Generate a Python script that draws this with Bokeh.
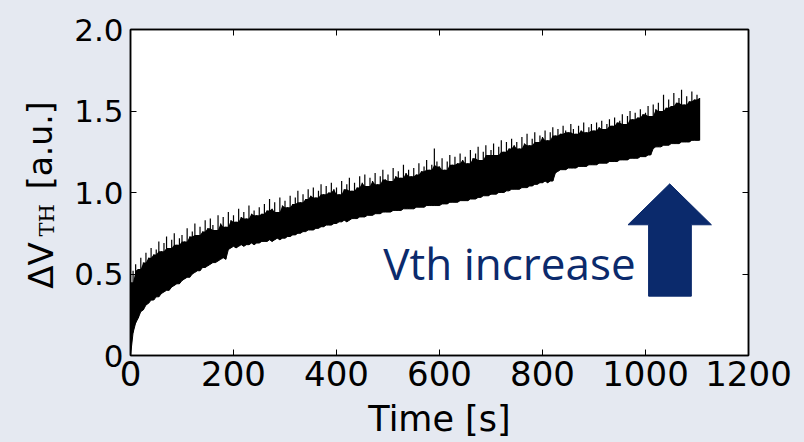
import math
from bokeh.plotting import figure
from bokeh.layouts import row
from bokeh.models import (Range1d, FixedTicker, LinearAxis, Label, PolyAnnotation)
from bokeh.core.properties import value
from bokeh.embed import file_html
from bokeh.resources import INLINE

# ---------------- data ----------------
time_s = list(range(0, 1110, 5))  # sampling instants, 0 ... 1105 s

vth_upper = [
    0.45, 0.52, 0.56, 0.53, 0.60, 0.57, 0.63, 0.60, 0.66, 0.62,
    0.65, 0.70, 0.64, 0.69, 0.73, 0.66, 0.71, 0.75, 0.68, 0.72,
    0.74, 0.70, 0.78, 0.73, 0.76, 0.81, 0.74, 0.79, 0.76, 0.83,
    0.78, 0.84, 0.80, 0.77, 0.86, 0.81, 0.85, 0.79, 0.88, 0.83,
    0.86, 0.82, 0.90, 0.85, 0.88, 0.84, 0.92, 0.87, 0.89, 0.86,
    0.91, 0.87, 0.93, 0.89, 0.96, 0.90, 0.94, 0.88, 0.97, 0.92,
    0.95, 0.91, 0.98, 0.93, 0.97, 1.01, 0.94, 0.99, 0.96, 1.02,
    0.98, 1.03, 0.97, 1.01, 1.05, 0.99, 1.04, 1.00, 1.06, 1.02,
    1.03, 0.99, 1.07, 1.02, 1.05, 1.09, 1.01, 1.06, 1.03, 1.10,
    1.06, 1.11, 1.04, 1.09, 1.07, 1.12, 1.05, 1.10, 1.14, 1.08,
    1.11, 1.07, 1.15, 1.10, 1.13, 1.09, 1.17, 1.12, 1.14, 1.10,
    1.15, 1.11, 1.18, 1.13, 1.16, 1.20, 1.14, 1.17, 1.27, 1.19,
    1.16, 1.21, 1.14, 1.19, 1.23, 1.17, 1.22, 1.18, 1.24, 1.20,
    1.22, 1.18, 1.26, 1.21, 1.24, 1.28, 1.20, 1.25, 1.29, 1.23,
    1.26, 1.30, 1.23, 1.28, 1.32, 1.25, 1.31, 1.27, 1.33, 1.29,
    1.31, 1.27, 1.34, 1.30, 1.36, 1.29, 1.33, 1.37, 1.31, 1.35,
    1.34, 1.38, 1.32, 1.37, 1.40, 1.35, 1.39, 1.36, 1.41, 1.38,
    1.37, 1.42, 1.39, 1.36, 1.41, 1.38, 1.43, 1.37, 1.40, 1.42,
    1.38, 1.43, 1.40, 1.44, 1.39, 1.42, 1.45, 1.41, 1.46, 1.43,
    1.44, 1.48, 1.42, 1.47, 1.50, 1.45, 1.49, 1.46, 1.51, 1.48,
    1.49, 1.53, 1.47, 1.54, 1.51, 1.55, 1.50, 1.60, 1.52, 1.57,
    1.53, 1.61, 1.55, 1.58, 1.63, 1.54, 1.59, 1.56, 1.62, 1.57,
    1.60, 1.58,
]

vth_lower = [
    0.00, 0.14, 0.20, 0.23, 0.27, 0.28, 0.31, 0.32, 0.34, 0.34,
    0.36, 0.36, 0.38, 0.39, 0.40, 0.40, 0.42, 0.43, 0.44, 0.44,
    0.46, 0.47, 0.48, 0.48, 0.50, 0.51, 0.52, 0.52, 0.54, 0.54,
    0.55, 0.56, 0.57, 0.57, 0.58, 0.59, 0.60, 0.59, 0.65, 0.66,
    0.67, 0.66, 0.67, 0.68, 0.67, 0.68, 0.68, 0.69, 0.68, 0.69,
    0.69, 0.70, 0.70, 0.70, 0.71, 0.70, 0.71, 0.72, 0.71, 0.72,
    0.72, 0.73, 0.73, 0.74, 0.74, 0.75, 0.75, 0.76, 0.76, 0.77,
    0.77, 0.77, 0.78, 0.78, 0.79, 0.79, 0.80, 0.80, 0.80, 0.81,
    0.81, 0.82, 0.82, 0.83, 0.82, 0.83, 0.84, 0.84, 0.84, 0.85,
    0.85, 0.85, 0.86, 0.86, 0.86, 0.87, 0.87, 0.87, 0.88, 0.88,
    0.88, 0.88, 0.89, 0.89, 0.89, 0.89, 0.90, 0.90, 0.90, 0.90,
    0.90, 0.91, 0.91, 0.91, 0.91, 0.92, 0.92, 0.92, 0.92, 0.92,
    0.92, 0.93, 0.93, 0.93, 0.94, 0.94, 0.94, 0.94, 0.95, 0.95,
    0.95, 0.95, 0.96, 0.96, 0.96, 0.97, 0.97, 0.98, 0.98, 0.98,
    0.99, 0.99, 0.99, 1.00, 1.00, 1.00, 1.01, 1.01, 1.02, 1.02,
    1.02, 1.02, 1.03, 1.03, 1.03, 1.04, 1.04, 1.05, 1.05, 1.06,
    1.06, 1.07, 1.06, 1.07, 1.07, 1.12, 1.13, 1.14, 1.14, 1.14,
    1.15, 1.15, 1.15, 1.15, 1.16, 1.16, 1.16, 1.16, 1.17, 1.17,
    1.17, 1.17, 1.18, 1.18, 1.18, 1.18, 1.19, 1.19, 1.19, 1.19,
    1.20, 1.20, 1.20, 1.20, 1.21, 1.21, 1.21, 1.21, 1.22, 1.22,
    1.22, 1.23, 1.23, 1.27, 1.28, 1.28, 1.28, 1.29, 1.29, 1.29,
    1.30, 1.30, 1.30, 1.30, 1.31, 1.31, 1.31, 1.31, 1.32, 1.32,
    1.32, 1.32,
]

x_ticks = [0, 200, 400, 600, 800, 1000, 1200]
x_tick_labels = ["0", "200", "400", "600", "800", "1000", "1200"]
y_ticks = [0, 0.5, 1.0, 1.5, 2.0]
y_tick_labels = ["0", "0.5", "1.0", "1.5", "2.0"]

annotation_text = "Vth increase"
y_label_parts = ["ΔV", "TH", "[a.u.]"]
# arrow outline (data coordinates)
arrow_x = [1047, 1128, 1089, 1089, 1006, 1006, 966]
arrow_y = [1.053, 0.802, 0.802, 0.364, 0.364, 0.802, 0.802]

BG = "#e5e9f1"
NAVY = "#0b2a6c"
FONT = "DejaVu Sans"

# dense body of the noisy trace (local minimum of the spike tops)
n = len(time_s)
body_top = [min(vth_upper[max(i - 1, 0):i + 2]) for i in range(n)]

y_range = Range1d(0, 2)

# ---------------- y-label strip (left) ----------------
lab = figure(width=60, height=442, output_backend="svg", toolbar_location=None,
             x_range=Range1d(0, 60), y_range=y_range,
             x_axis_location=None, y_axis_location=None,
             min_border=0)
lab.background_fill_color = BG
lab.border_fill_color = BG
lab.outline_line_color = None
lab.grid.visible = False
half_pi = math.pi / 2
lab.text(x=[40], y=[0.41], text=[y_label_parts[0]], angle=half_pi,
         text_font=value(FONT), text_font_size="34px", text_color="black",
         text_align="left", text_baseline="alphabetic")
lab.text(x=[46], y=[0.73], text=[y_label_parts[1]], angle=half_pi,
         text_font=value("DejaVu Serif"), text_font_size="21px", text_color="black",
         text_align="left", text_baseline="alphabetic")
lab.text(x=[40], y=[1.02], text=[y_label_parts[2]], angle=half_pi,
         text_font=value(FONT), text_font_size="33px", text_color="black",
         text_align="left", text_baseline="alphabetic")

# ---------------- main figure ----------------
p = figure(width=744, height=442, output_backend="svg", toolbar_location=None,
           x_range=Range1d(0, 1200), y_range=y_range,
           min_border_left=70, min_border_right=56,
           min_border_top=29, min_border_bottom=87)
p.background_fill_color = "white"
p.border_fill_color = BG
p.outline_line_color = "black"
p.outline_line_width = 1.5
p.grid.visible = False

p.varea(x=time_s, y1=vth_lower, y2=body_top, fill_color="black")
p.segment(x0=time_s, y0=vth_lower, x1=time_s, y1=vth_upper,
          line_color="black", line_width=1.2)
p.line(time_s, vth_lower, line_color="black", line_width=1)

def style_axis(ax, labels=True, fs="31px"):
    ax.axis_line_color = "black"
    ax.axis_line_width = 1.5
    ax.major_tick_in = 6
    ax.major_tick_out = 0
    ax.major_tick_line_color = "black"
    ax.minor_tick_line_color = None
    ax.major_label_text_font = FONT
    if labels:
        ax.major_label_text_font_size = fs
        ax.major_label_text_color = "black"
    else:
        ax.major_label_text_font_size = "1px"
        ax.major_label_text_color = None
        ax.major_label_standoff = 0

xa = p.xaxis[0]
ya = p.yaxis[0]
xa.ticker = FixedTicker(ticks=x_ticks)
ya.ticker = FixedTicker(ticks=y_ticks)
xa.major_label_overrides = dict(zip(x_ticks, x_tick_labels))
ya.major_label_overrides = dict(zip(y_ticks, y_tick_labels))
style_axis(xa, fs="34px")
style_axis(ya, fs="31px")
xa.major_label_standoff = 5
ya.major_label_standoff = 7
xa.axis_label = "Time [s]"
xa.axis_label_text_font = FONT
xa.axis_label_text_font_size = "35px"
xa.axis_label_text_font_style = "normal"
xa.axis_label_text_color = "black"
xa.axis_label_standoff = 10

top = LinearAxis(ticker=FixedTicker(ticks=x_ticks))
right = LinearAxis(ticker=FixedTicker(ticks=y_ticks))
style_axis(top, labels=False)
style_axis(right, labels=False)
p.add_layout(top, "above")
p.add_layout(right, "right")

# annotation text and arrow
p.add_layout(Label(x=491, y=0.57, text=annotation_text, text_font="Open Sans",
                   text_font_size="44px", text_color=NAVY,
                   text_align="left", text_baseline="alphabetic"))
p.add_layout(PolyAnnotation(xs=arrow_x, ys=arrow_y, fill_color=NAVY, fill_alpha=1.0,
                            line_color=NAVY, line_alpha=1.0, line_width=1))

layout = row(lab, p, spacing=0)
html = file_html(layout, INLINE)
page_style = "<style>html,body{margin:0;padding:0;background:%s;}</style>" % BG
html = html.replace("</head>", page_style + "</head>", 1)
open("out.html", "w").write(html)
